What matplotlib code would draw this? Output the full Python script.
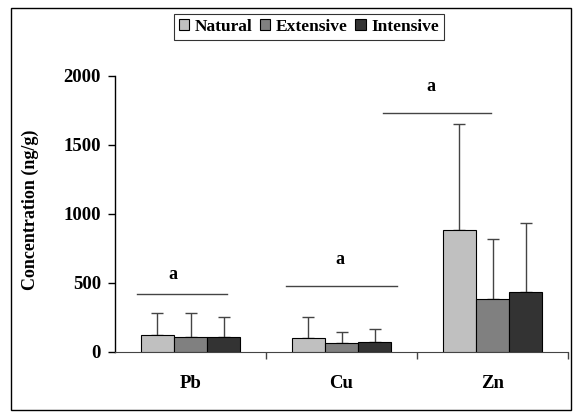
import matplotlib
matplotlib.use("Agg")
import matplotlib.pyplot as plt
from matplotlib.patches import Rectangle
import numpy as np

plt.rcParams['font.family'] = ['Liberation Serif', 'DejaVu Serif']
plt.rcParams['font.weight'] = 'bold'

metals = ["Pb", "Cu", "Zn"]
series = ["Natural", "Extensive", "Intensive"]
colors = ["#c0c0c0", "#808080", "#333333"]
means = {
    "Natural":   [121, 101, 882],
    "Extensive": [109, 61, 380],
    "Intensive": [109, 70, 430],
}
errs = {
    "Natural":   [162, 148, 768],
    "Extensive": [174, 84, 434],
    "Intensive": [140, 92, 500],
}
# significance lines: (x start, x end, y) and letter positions
sig_lines = [(-0.354, 0.242, 416), (0.632, 1.366, 478), (1.275, 1.99, 1728)]
sig_text = [(-0.12, 562, "a"), (0.99, 670, "a"), (1.59, 1925, "a")]

fig = plt.figure(figsize=(5.75, 4.12), dpi=100)
ax = fig.add_axes([0.2, 0.146, 0.788, 0.67])

x = np.arange(len(metals))
w = 0.22
for i, s in enumerate(series):
    pos = x + (i - 1) * w
    ax.bar(pos, means[s], w, color=colors[i], edgecolor="black", linewidth=0.8,
           label=s, zorder=3)
    ax.errorbar(pos, means[s], yerr=[np.zeros(3), errs[s]], fmt="none",
                ecolor="#444444", elinewidth=1, capsize=4, capthick=1, zorder=2,
                clip_on=False)

for x0, x1, y in sig_lines:
    ax.plot([x0, x1], [y, y], color="#444444", lw=1, clip_on=False)
for tx, ty, t in sig_text:
    ax.text(tx, ty, t, ha="center", va="center", fontsize=13, fontweight="bold")

ax.set_xlim(-0.5, 2.5)
ax.set_ylim(0, 2000)
ax.set_yticks([0, 500, 1000, 1500, 2000])
ax.tick_params(axis="y", labelsize=13.5, length=5, width=1, pad=5)
ax.set_xticks([0.5, 1.5, 2.5])
ax.set_xticklabels([])
ax.set_xticks(x, minor=True)
ax.set_xticklabels(metals, minor=True, fontsize=13.5, fontweight="bold")
ax.tick_params(axis="x", which="major", length=5, width=1, color="#444444")
ax.tick_params(axis="x", which="minor", length=0, pad=17)
for sp in ["top", "right"]:
    ax.spines[sp].set_visible(False)
ax.spines["bottom"].set_color("#444444")
ax.spines["left"].set_linewidth(1)

fig.text(0.052, 0.296, "Concentration (ng/g)", rotation=90, ha="center",
         va="bottom", fontsize=13, fontweight="bold")

leg = fig.legend(loc="upper center", bbox_to_anchor=(0.537, 0.975), ncol=3,
                 frameon=True, fancybox=False, edgecolor="black",
                 handlelength=0.6, handleheight=0.6, handletextpad=0.3,
                 columnspacing=0.45, borderpad=0.3, borderaxespad=0.2,
                 prop={"size": 12.5, "weight": "bold"})
leg.get_frame().set_linewidth(0.8)

fig.patches.append(Rectangle((0.019, 0.005), 0.974, 0.975, transform=fig.transFigure,
                             fill=False, edgecolor="black", linewidth=1))

fig.savefig("out.png", dpi=100)
